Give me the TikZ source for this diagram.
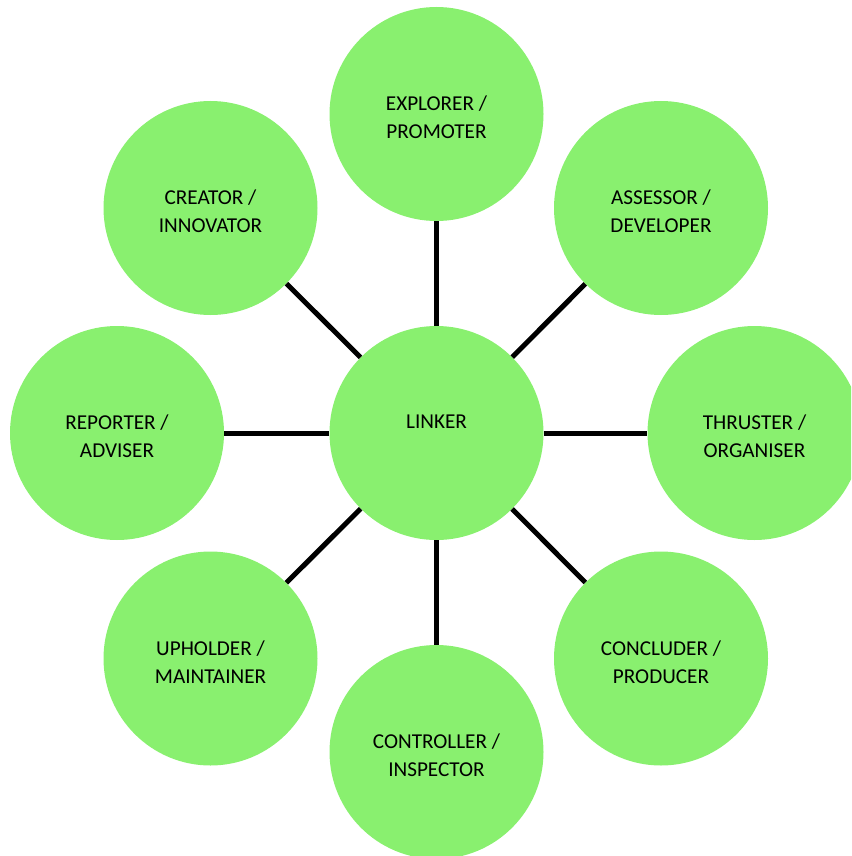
\documentclass[tikz,border=0pt]{standalone}
\usepackage{fontspec}
\setmainfont{Carlito}
\definecolor{rolegreen}{RGB}{137,240,111}
\tikzset{
  role/.style={circle, fill=rolegreen, minimum size=214pt, inner sep=0pt},
  rolelabel/.style={align=center, inner sep=0pt, font=\fontsize{21.2}{28}\selectfont, yshift=-3.5pt},
  link/.style={line width=5pt, black}
}
\begin{document}
\begin{tikzpicture}[x=1pt, y=-1pt]
  \useasboundingbox (0,0) rectangle (851,856);
  \clip (0,0) rectangle (851,856);

  % circles
  \node[role] (linker) at (436.5,433) {};
  \node[role] (explorer) at (436.5,114) {};
  \node[role] (assessor) at (661,208) {};
  \node[role] (thruster) at (754.5,433) {};
  \node[role] (concluder) at (661,658.5) {};
  \node[role] (controller) at (436.5,752) {};
  \node[role] (upholder) at (210.5,658.5) {};
  \node[role] (reporter) at (117,433) {};
  \node[role] (creator) at (210.5,208) {};

  % spokes from the hub
  \foreach \r in {explorer,assessor,thruster,concluder,controller,upholder,reporter,creator}
    \draw[link] (linker) -- (\r);

  % labels
  \node[rolelabel, yshift=14.5pt] at (linker) {LINKER};
  \node[rolelabel] at (explorer) {EXPLORER /\\PROMOTER};
  \node[rolelabel] at (assessor) {ASSESSOR /\\DEVELOPER};
  \node[rolelabel] at (thruster) {THRUSTER /\\ORGANISER};
  \node[rolelabel] at (concluder) {CONCLUDER /\\PRODUCER};
  \node[rolelabel] at (controller) {CONTROLLER /\\INSPECTOR};
  \node[rolelabel] at (upholder) {UPHOLDER /\\MAINTAINER};
  \node[rolelabel] at (reporter) {REPORTER /\\ADVISER};
  \node[rolelabel] at (creator) {CREATOR /\\INNOVATOR};
\end{tikzpicture}
\end{document}
